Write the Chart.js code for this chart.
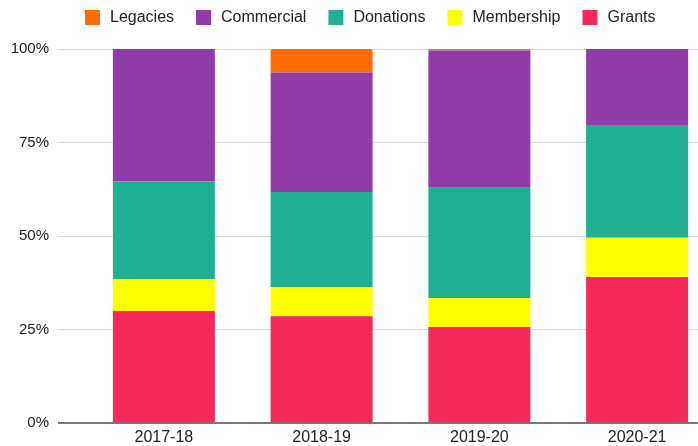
<!DOCTYPE html>
<html>
<head>
<meta charset="utf-8">
<script src="https://cdn.jsdelivr.net/npm/chart.js@4/dist/chart.umd.min.js"></script>
<style>
  html, body { margin: 0; padding: 0; background: #fff; overflow: hidden; }
  #wrap { width: 716px; height: 446px; }
</style>
</head>
<body>
<div id="wrap"><canvas id="c" width="716" height="446"></canvas></div>
<script>
const categories = ['2017-18', '2018-19', '2019-20', '2020-21'];
const grants     = [30.0, 28.6, 25.7, 39.1];
const membership = [8.5, 7.8, 7.8, 10.5];
const donations  = [26.1, 25.4, 29.4, 30.1];
const commercial = [35.4, 31.9, 36.7, 20.3];
const legacies   = [0, 6.3, 0.4, 0];
const yTicks = [0, 25, 50, 75, 100];

const FONT = '"Liberation Sans", Arial, sans-serif';

const legendPlugin = {
  id: 'customLegend',
  afterDraw(chart) {
    const ctx = chart.ctx;
    ctx.save();
    ctx.font = '16px ' + FONT;
    ctx.textBaseline = 'middle';
    ctx.textAlign = 'left';
    let x = chart.chartArea.left;
    const ds = chart.data.datasets.slice().reverse();
    ds.forEach(d => {
      ctx.fillStyle = d.backgroundColor;
      ctx.fillRect(x, 10, 15, 15);
      ctx.fillStyle = '#222';
      const tx = x + 25;
      ctx.fillText(d.label, tx, 17.5);
      x = tx + ctx.measureText(d.label).width + 22;
    });
    ctx.restore();
  }
};

new Chart(document.getElementById('c'), {
  type: 'bar',
  data: {
    labels: categories,
    datasets: [
      { label: 'Grants', data: grants, backgroundColor: '#F5295C' },
      { label: 'Membership', data: membership, backgroundColor: '#FFFF00' },
      { label: 'Donations', data: donations, backgroundColor: '#1FB093' },
      { label: 'Commercial', data: commercial, backgroundColor: '#913BA8' },
      { label: 'Legacies', data: legacies, backgroundColor: '#FF6D00',
        borderRadius: { topLeft: 2, topRight: 2, bottomLeft: 0, bottomRight: 0 }, borderSkipped: false }
    ]
  },
  options: {
    responsive: false,
    animation: false,
    events: [],
    layout: { padding: { top: 49, left: 0, right: 0, bottom: 0 } },
    datasets: { bar: { categoryPercentage: 1, barPercentage: 0.6466, borderWidth: 0 } },
    plugins: { legend: { display: false }, tooltip: { enabled: false } },
    scales: {
      x: {
        stacked: true,
        afterFit(scale) { scale.height = 22.7; },
        grid: { display: false, drawTicks: false },
        border: { display: false },
        ticks: { color: '#222', font: { family: FONT, size: 16 }, padding: 5, maxRotation: 0 }
      },
      y: {
        stacked: true,
        min: 0, max: 100,
        afterBuildTicks(scale) { scale.ticks = yTicks.map(v => ({ value: v })); },
        afterFit(scale) { scale.width = 85; },
        grid: {
          color: c => (c.tick && c.tick.value === 0) ? '#777' : '#d9d9d9',
          lineWidth: c => (c.tick && c.tick.value === 0) ? 2 : 1,
          tickLength: 27
        },
        border: { display: false },
        ticks: {
          color: '#222',
          font: { family: FONT, size: 15 },
          padding: 9,
          callback: v => v + '%'
        }
      }
    }
  },
  plugins: [legendPlugin]
});
</script>
</body>
</html>
